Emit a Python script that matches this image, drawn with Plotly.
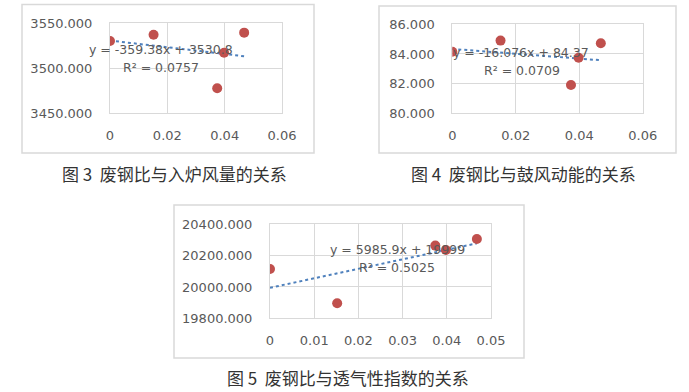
import numpy as np
import plotly.graph_objects as go

W, H = 689, 392

# ---- data ----
scrap_ratio = [0, 0.0152, 0.0468, 0.0398, 0.0374]
air_volume = [3530.3, 3537.3, 3539.6, 3517.3, 3477.8]
blast_energy = [84.15, 84.90, 84.72, 83.75, 81.91]
permeability = [20115, 19896, 20306, 20236, 20264]

eq3 = "y = -359.38x + 3530.8"
r2_3 = "R² = 0.0757"
eq4 = "y = -16.076x + 84.37"
r2_4 = "R² = 0.0709"
eq5 = "y = 5985.9x + 19999"
r2_5 = "R² = 0.5025"

cap3 = "图 3  废钢比与入炉风量的关系"
cap4 = "图 4  废钢比与鼓风动能的关系"
cap5 = "图 5  废钢比与透气性指数的关系"

x_ticks_top = [0, 0.02, 0.04, 0.06]
x_ticks_bot = [0, 0.01, 0.02, 0.03, 0.04, 0.05]

RED = "#C0504D"
BLUE = "#4F81BD"
GRID = "#D9D9D9"
TXT = "#595959"
FONT = "DejaVu Sans"


def px(x):
    return x / W


def py(y):
    return 1 - y / H


fig = go.Figure()

panels = [
    # (yvals, axis suffix, xdomain px, ydomain px, yrange, dtick, xticks)
    (air_volume, "", (110, 282), (23.3, 113.3), [3450, 3550], 50, x_ticks_top),
    (blast_energy, "2", (452.3, 642.7), (24.3, 113.3), [80, 86], 2, x_ticks_top),
    (permeability, "3", (270, 491), (224.3, 318.3), [19800, 20400], 200, x_ticks_bot),
]

for yvals, s, (x0, x1), (y0, y1), yr, dt, xt in panels:
    xa = "x" + s
    ya = "y" + s
    # linear trend through the data
    k, b = np.polyfit(scrap_ratio, yvals, 1)
    xs = np.array([min(scrap_ratio), max(scrap_ratio)])
    fig.add_trace(go.Scatter(
        x=xs, y=k * xs + b, mode="lines", xaxis=xa, yaxis=ya,
        line=dict(color=BLUE, width=2, dash="dot"), showlegend=False,
        hoverinfo="skip"))
    fig.add_trace(go.Scatter(
        x=scrap_ratio, y=yvals, mode="markers", xaxis=xa, yaxis=ya,
        marker=dict(color=RED, size=10), showlegend=False))
    fig.layout["xaxis" + s] = dict(
        domain=[px(x0), px(x1)], range=[xt[0], xt[-1]], anchor=ya,
        tickvals=xt, ticktext=[("%g" % v) for v in xt], automargin=False,
        showgrid=True, gridcolor=GRID, gridwidth=1,
        showline=True, linecolor=GRID, linewidth=1, mirror=True,
        zeroline=False, ticks="outside", ticklen=10, tickcolor="rgba(0,0,0,0)",
        tickfont=dict(family=FONT, size=13, color=TXT), fixedrange=True)
    fig.layout["yaxis" + s] = dict(
        domain=[py(y1), py(y0)], range=yr, anchor=xa, dtick=dt,
        tickformat=".3f", automargin=False,
        showgrid=True, gridcolor=GRID, gridwidth=1,
        showline=True, linecolor=GRID, linewidth=1, mirror=True,
        zeroline=False, ticks="outside", ticklen=14, tickcolor="rgba(0,0,0,0)",
        tickfont=dict(family=FONT, size=13, color=TXT), fixedrange=True)

shapes = []
for (l, t, r, bt) in [(22, 4.5, 314, 153), (379, 6, 676, 153), (174, 205, 524, 358)]:
    shapes.append(dict(type="rect", xref="paper", yref="paper",
                       x0=px(l), x1=px(r), y0=py(bt), y1=py(t),
                       line=dict(color=GRID, width=1.5), layer="below"))

ann = []
for text, cx, cy in [(eq3, 161, 49), (r2_3, 161, 67),
                     (eq4, 521, 52), (r2_4, 521.5, 70.7),
                     (eq5, 397.5, 249), (r2_5, 397.5, 267.7)]:
    ann.append(dict(text=text, x=px(cx), y=py(cy), xref="paper", yref="paper",
                    showarrow=False, xanchor="center", yanchor="middle",
                    font=dict(family=FONT, size=12.5, color=TXT)))
for text, cx, cy in [(cap3, 174, 173), (cap4, 523, 173), (cap5, 348, 377)]:
    ann.append(dict(text=text, x=px(cx), y=py(cy), xref="paper", yref="paper",
                    showarrow=False, xanchor="center", yanchor="middle",
                    font=dict(family="Noto Sans CJK SC", size=17, color="#333333")))

fig.update_layout(
    width=W, height=H, margin=dict(l=0, r=0, t=0, b=0, autoexpand=False),
    paper_bgcolor="white", plot_bgcolor="white",
    shapes=shapes, annotations=ann, showlegend=False)

fig.write_html(
    "out.html", config={"displayModeBar": False},
    post_script="document.body.style.margin='0';document.body.style.overflow='hidden';")
